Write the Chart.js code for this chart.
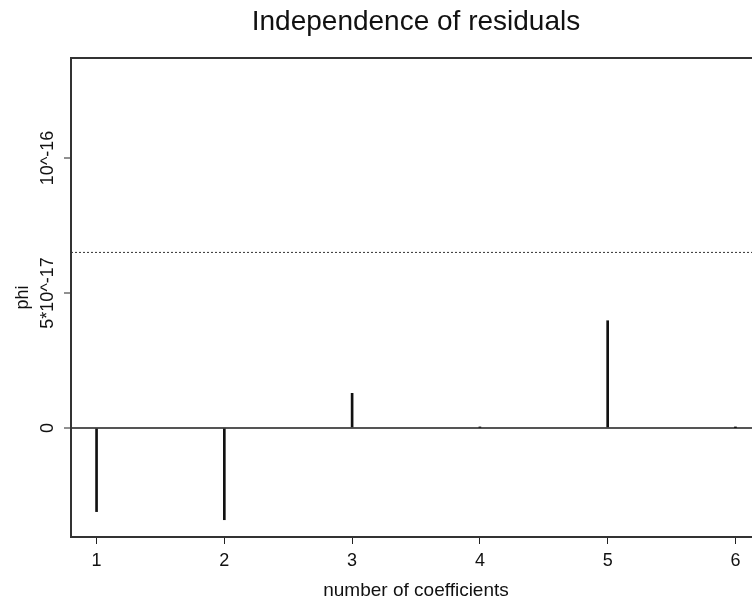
<!DOCTYPE html>
<html>
<head>
<meta charset="utf-8">
<title>Independence of residuals</title>
<script src="https://cdn.jsdelivr.net/npm/chart.js@4.4.1/dist/chart.umd.min.js"></script>
<style>
    html, body { margin: 0; padding: 0; background: #fff; overflow: hidden; }
    #chart { display: block; }
</style>
</head>
<body>
<canvas id="chart" width="761" height="602"></canvas>
<script>
// Values
var coefficients = [1, 2, 3, 4, 5, 6];
var phiValues = [-3.1e-17, -3.4e-17, 1.28e-17, 0.02e-17, 3.97e-17, 0.01e-17];
var boundLevel = 6.5e-17;
var xTickValues = [1, 2, 3, 4, 5, 6];
var yTickValues = [0, 5e-17, 1e-16];
var yTickLabels = ['0', '5*10^-17', '10^-16'];
var xRange = [0.8, 6.2];
var yRange = [-4.04e-17, 13.7e-17];

var fontFamily = '"Liberation Sans", Arial, Helvetica, sans-serif';
var ink = '#111';

// Rotated y tick labels (reading bottom to top)
var rotatedYLabels = {
    id: 'rotatedYLabels',
    afterDraw: function(chart) {
        var scale = chart.scales.y;
        var ctx = chart.ctx;
        ctx.save();
        ctx.font = '18px ' + fontFamily;
        ctx.fillStyle = ink;
        ctx.textAlign = 'center';
        ctx.textBaseline = 'middle';
        scale.ticks.forEach(function(tick, i) {
            var y = scale.getPixelForValue(tick.value);
            ctx.save();
            ctx.translate(scale.right - 23, y);
            ctx.rotate(-Math.PI / 2);
            ctx.fillText(yTickLabels[i], 0, 0);
            ctx.restore();
        });
        ctx.restore();
    }
};

var stemPoints = coefficients.map(function(c, i) {
    return { x: c, y: phiValues[i] };
});

new Chart(document.getElementById('chart').getContext('2d'), {
    type: 'bar',
    data: {
        datasets: [
            {
                type: 'line',
                data: [{ x: xRange[0], y: boundLevel }, { x: xRange[1], y: boundLevel }],
                borderColor: '#333',
                borderWidth: 1,
                borderDash: [2, 2],
                pointRadius: 0,
                xAxisID: 'x',
                yAxisID: 'y'
            },
            {
                type: 'bar',
                data: stemPoints,
                backgroundColor: ink,
                borderWidth: 0,
                barThickness: 2,
                xAxisID: 'x',
                yAxisID: 'y'
            }
        ]
    },
    options: {
        responsive: false,
        animation: false,
        layout: { padding: 0 },
        plugins: {
            legend: { display: false },
            tooltip: { enabled: false }
        },
        scales: {
            x: {
                type: 'linear',
                position: 'bottom',
                offset: false,
                min: xRange[0],
                max: xRange[1],
                afterBuildTicks: function(scale) {
                    scale.ticks = xTickValues.map(function(v) { return { value: v }; });
                },
                afterFit: function(scale) { scale.height = 65; },
                ticks: {
                    color: ink,
                    font: { family: fontFamily, size: 18 },
                    padding: 6,
                    maxRotation: 0,
                    callback: function(v) { return String(v); }
                },
                grid: {
                    offset: false,
                    drawOnChartArea: false,
                    tickLength: 7,
                    tickColor: '#222'
                },
                border: { display: true, color: '#333', width: 2 },
                title: {
                    display: true,
                    text: 'number of coefficients',
                    color: ink,
                    font: { family: fontFamily, size: 19 },
                    padding: { top: 0, bottom: 0 }
                }
            },
            top: {
                type: 'linear',
                position: 'top',
                offset: false,
                min: xRange[0],
                max: xRange[1],
                afterFit: function(scale) { scale.height = 58; },
                ticks: { display: false },
                grid: { display: false },
                border: { display: true, color: '#333', width: 2 },
                title: {
                    display: true,
                    text: 'Independence of residuals',
                    color: ink,
                    font: { family: fontFamily, size: 28 },
                    padding: { top: 5, bottom: 0 }
                }
            },
            y: {
                type: 'linear',
                position: 'left',
                min: yRange[0],
                max: yRange[1],
                afterBuildTicks: function(scale) {
                    scale.ticks = yTickValues.map(function(v) { return { value: v }; });
                },
                afterFit: function(scale) { scale.width = 71; },
                ticks: { display: false },
                grid: {
                    drawOnChartArea: true,
                    color: function(ctx) {
                        return ctx.tick && ctx.tick.value === 0 ? '#555' : 'rgba(0,0,0,0)';
                    },
                    lineWidth: 2,
                    tickLength: 7,
                    tickColor: '#222',
                    tickWidth: 1
                },
                border: { display: true, color: '#333', width: 2 },
                title: {
                    display: true,
                    text: 'phi',
                    color: ink,
                    font: { family: fontFamily, size: 18 },
                    padding: { top: 12, bottom: 0 }
                }
            }
        }
    },
    plugins: [rotatedYLabels]
});
</script>
</body>
</html>
